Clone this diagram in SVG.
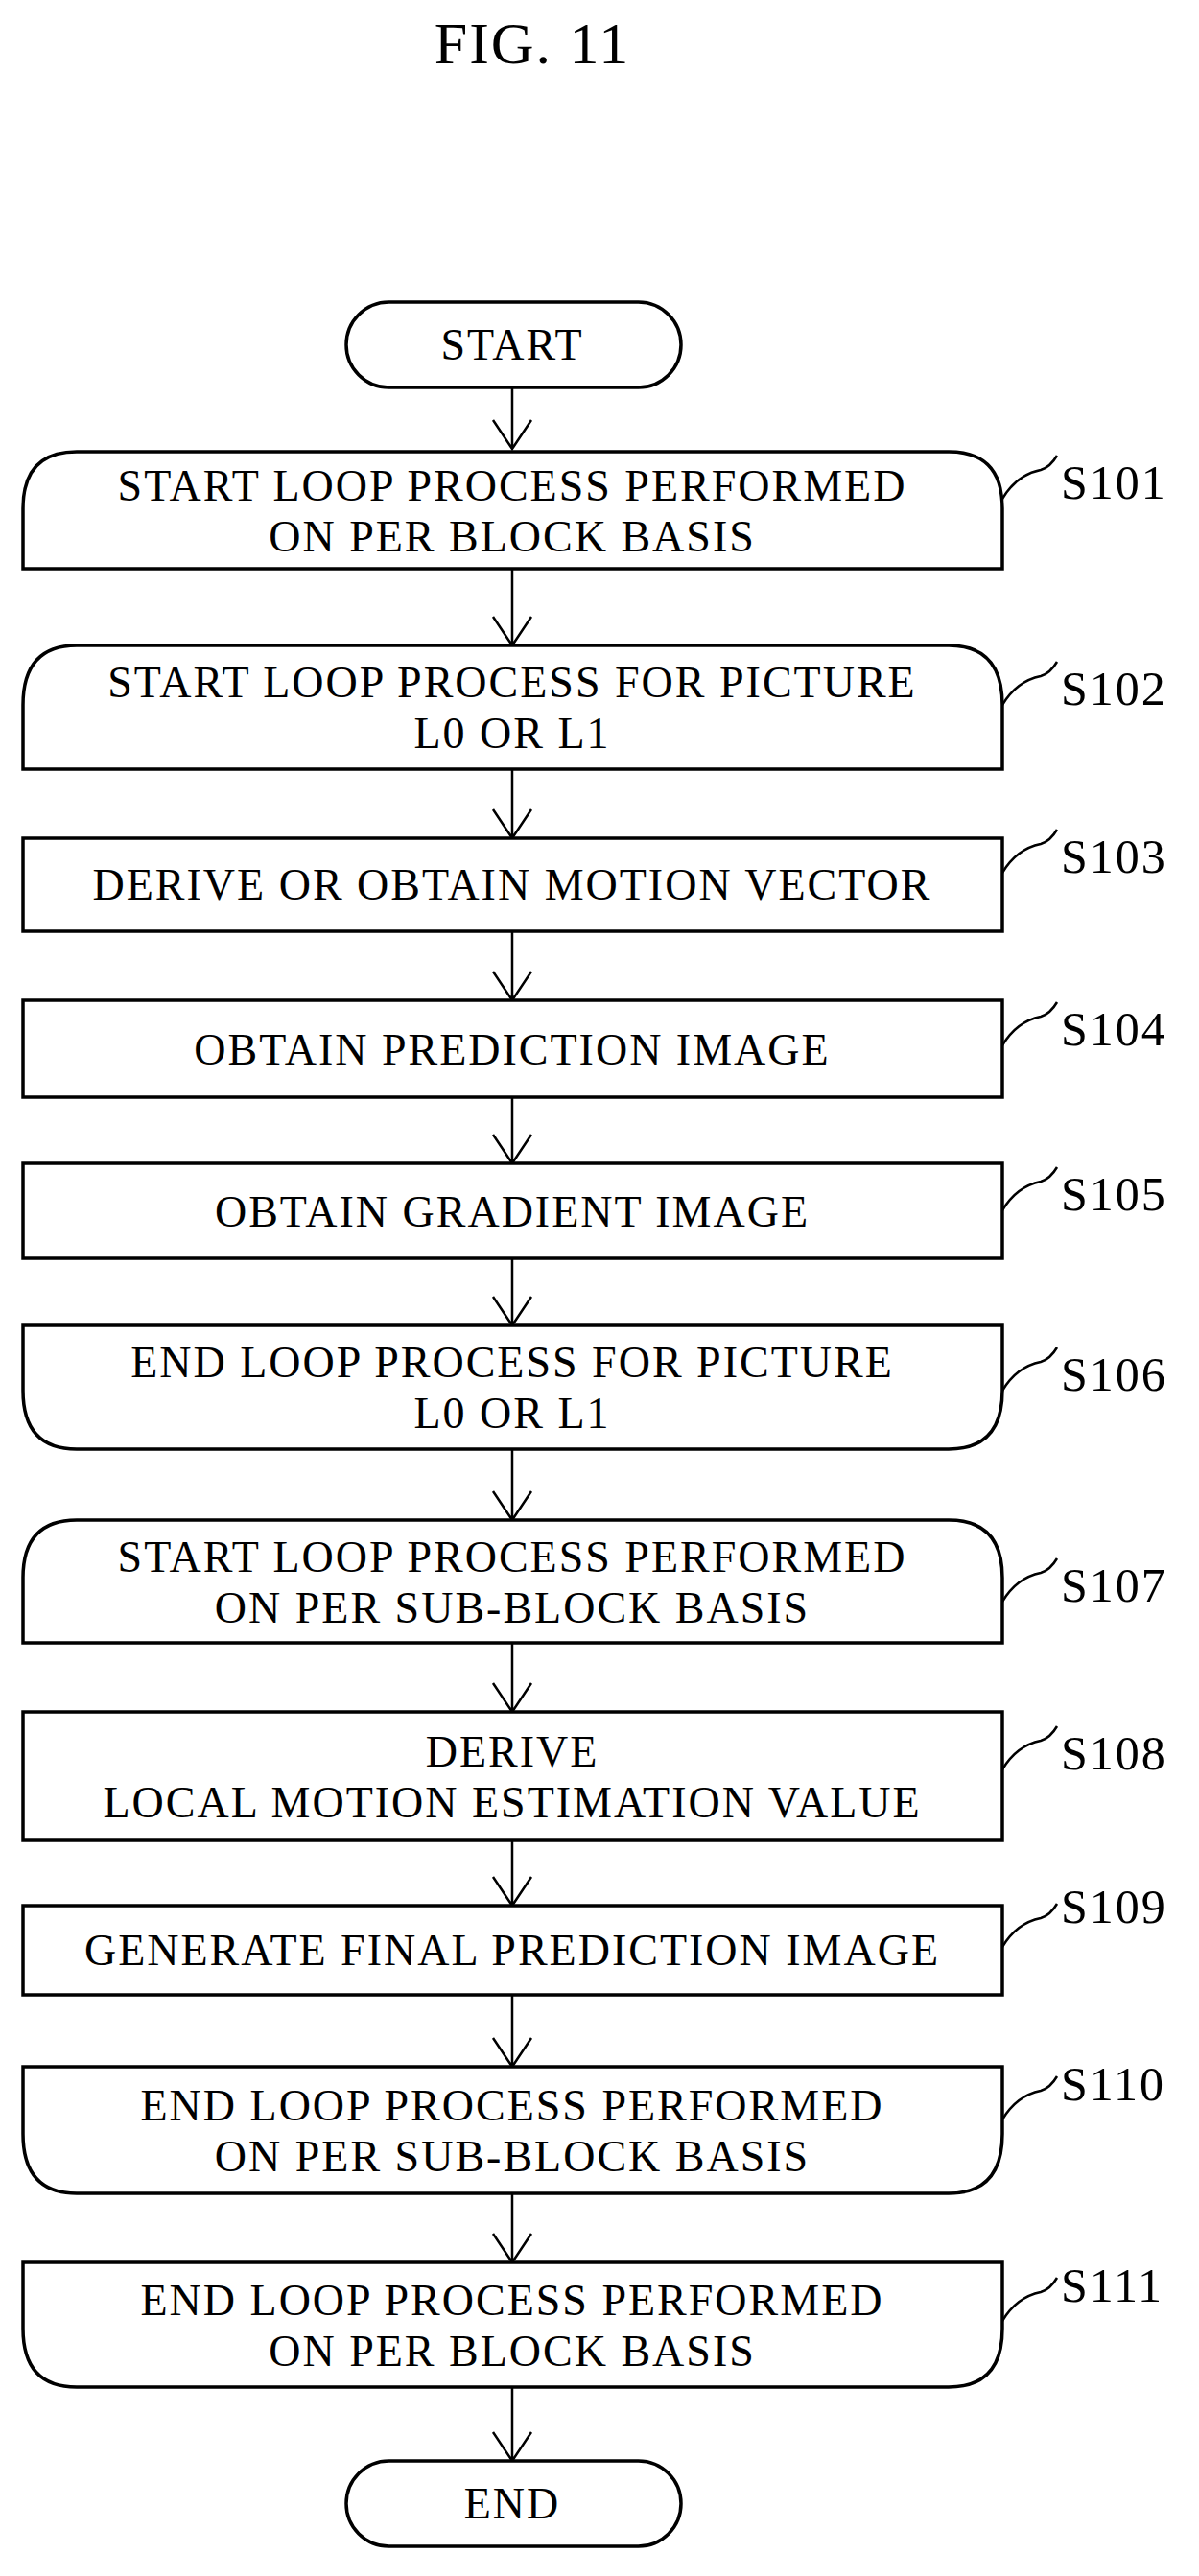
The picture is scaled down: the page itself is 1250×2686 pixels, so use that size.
<svg xmlns="http://www.w3.org/2000/svg" width="1250" height="2686" viewBox="0 0 1250 2686">
<style>
.b{fill:#fff;stroke:#000;stroke-width:3.5}
.t{font-family:"Liberation Serif",serif;font-size:46px;letter-spacing:2px;text-anchor:middle;fill:#000}
.l{font-family:"Liberation Serif",serif;font-size:50px;letter-spacing:2px;fill:#000}
.c{fill:none;stroke:#000;stroke-width:2.5}
.a{fill:none;stroke:#000;stroke-width:2.5}
</style>
<rect width="1250" height="2686" fill="#fff"/>
<text x="555" y="66" class="t" style="font-size:62px">FIG. 11</text>
<g id="connectors">
<path class="a" d="M534,404 V468 M514,438 L534,468 L554,438"/>
<path class="a" d="M534,593 V673 M514,643 L534,673 L554,643"/>
<path class="a" d="M534,802 V874 M514,844 L534,874 L554,844"/>
<path class="a" d="M534,971 V1043 M514,1013 L534,1043 L554,1013"/>
<path class="a" d="M534,1144 V1213 M514,1183 L534,1213 L554,1183"/>
<path class="a" d="M534,1312 V1382 M514,1352 L534,1382 L554,1352"/>
<path class="a" d="M534,1511 V1585 M514,1555 L534,1585 L554,1555"/>
<path class="a" d="M534,1713 V1785 M514,1755 L534,1785 L554,1755"/>
<path class="a" d="M534,1919 V1987 M514,1957 L534,1987 L554,1957"/>
<path class="a" d="M534,2080 V2155 M514,2125 L534,2155 L554,2125"/>
<path class="a" d="M534,2287 V2359 M514,2329 L534,2359 L554,2329"/>
<path class="a" d="M534,2489 V2566 M514,2536 L534,2566 L554,2536"/>
</g>
<g id="start"><rect class="b" x="361" y="315" width="349" height="89" rx="44.5"/><text class="t" x="534" y="375">START</text></g>
<g id="s101"><path class="b" d="M24,593 V530 Q24,471 80,471 H989 Q1045,471 1045,530 V593 Z"/><text class="t" x="534" y="522">START LOOP PROCESS PERFORMED</text><text class="t" x="534" y="575">ON PER BLOCK BASIS</text><path class="c" d="M1045,520 Q1060,495 1085,490 Q1095,487 1102,475"/><text class="l" x="1106" y="520">S101</text></g>
<g id="s102"><path class="b" d="M24,802 V735 Q24,673 80,673 H989 Q1045,673 1045,735 V802 Z"/><text class="t" x="534" y="727">START LOOP PROCESS FOR PICTURE</text><text class="t" x="534" y="780">L0 OR L1</text><path class="c" d="M1045,735 Q1060,710 1085,705 Q1095,702 1102,690"/><text class="l" x="1106" y="735">S102</text></g>
<g id="s103"><rect class="b" x="24" y="874" width="1021" height="97"/><text class="t" x="534" y="938">DERIVE OR OBTAIN MOTION VECTOR</text><path class="c" d="M1045,910 Q1060,885 1085,880 Q1095,877 1102,865"/><text class="l" x="1106" y="910">S103</text></g>
<g id="s104"><rect class="b" x="24" y="1043" width="1021" height="101"/><text class="t" x="534" y="1110">OBTAIN PREDICTION IMAGE</text><path class="c" d="M1045,1090 Q1060,1065 1085,1060 Q1095,1057 1102,1045"/><text class="l" x="1106" y="1090">S104</text></g>
<g id="s105"><rect class="b" x="24" y="1213" width="1021" height="99"/><text class="t" x="534" y="1279">OBTAIN GRADIENT IMAGE</text><path class="c" d="M1045,1262 Q1060,1237 1085,1232 Q1095,1229 1102,1217"/><text class="l" x="1106" y="1262">S105</text></g>
<g id="s106"><path class="b" d="M24,1382 V1450 Q24,1511 80,1511 H989 Q1045,1511 1045,1450 V1382 Z"/><text class="t" x="534" y="1436">END LOOP PROCESS FOR PICTURE</text><text class="t" x="534" y="1489">L0 OR L1</text><path class="c" d="M1045,1450 Q1060,1425 1085,1420 Q1095,1417 1102,1405"/><text class="l" x="1106" y="1450">S106</text></g>
<g id="s107"><path class="b" d="M24,1713 V1645 Q24,1585 80,1585 H989 Q1045,1585 1045,1645 V1713 Z"/><text class="t" x="534" y="1639">START LOOP PROCESS PERFORMED</text><text class="t" x="534" y="1692">ON PER SUB-BLOCK BASIS</text><path class="c" d="M1045,1670 Q1060,1645 1085,1640 Q1095,1637 1102,1625"/><text class="l" x="1106" y="1670">S107</text></g>
<g id="s108"><rect class="b" x="24" y="1785" width="1021" height="134"/><text class="t" x="534" y="1842">DERIVE</text><text class="t" x="534" y="1895">LOCAL MOTION ESTIMATION VALUE</text><path class="c" d="M1045,1845 Q1060,1820 1085,1815 Q1095,1812 1102,1800"/><text class="l" x="1106" y="1845">S108</text></g>
<g id="s109"><rect class="b" x="24" y="1987" width="1021" height="93"/><text class="t" x="534" y="2049">GENERATE FINAL PREDICTION IMAGE</text><path class="c" d="M1045,2030 Q1060,2005 1085,2000 Q1095,1997 1102,1985"/><text class="l" x="1106" y="2005">S109</text></g>
<g id="s110"><path class="b" d="M24,2155 V2225 Q24,2287 80,2287 H989 Q1045,2287 1045,2225 V2155 Z"/><text class="t" x="534" y="2211">END LOOP PROCESS PERFORMED</text><text class="t" x="534" y="2264">ON PER SUB-BLOCK BASIS</text><path class="c" d="M1045,2210 Q1060,2185 1085,2180 Q1095,2177 1102,2165"/><text class="l" x="1106" y="2190">S110</text></g>
<g id="s111"><path class="b" d="M24,2359 V2428 Q24,2489 80,2489 H989 Q1045,2489 1045,2428 V2359 Z"/><text class="t" x="534" y="2414">END LOOP PROCESS PERFORMED</text><text class="t" x="534" y="2467">ON PER BLOCK BASIS</text><path class="c" d="M1045,2420 Q1060,2395 1085,2390 Q1095,2387 1102,2375"/><text class="l" x="1106" y="2400">S111</text></g>
<g id="end"><rect class="b" x="361" y="2566" width="349" height="89" rx="44.5"/><text class="t" x="534" y="2626">END</text></g>
</svg>
